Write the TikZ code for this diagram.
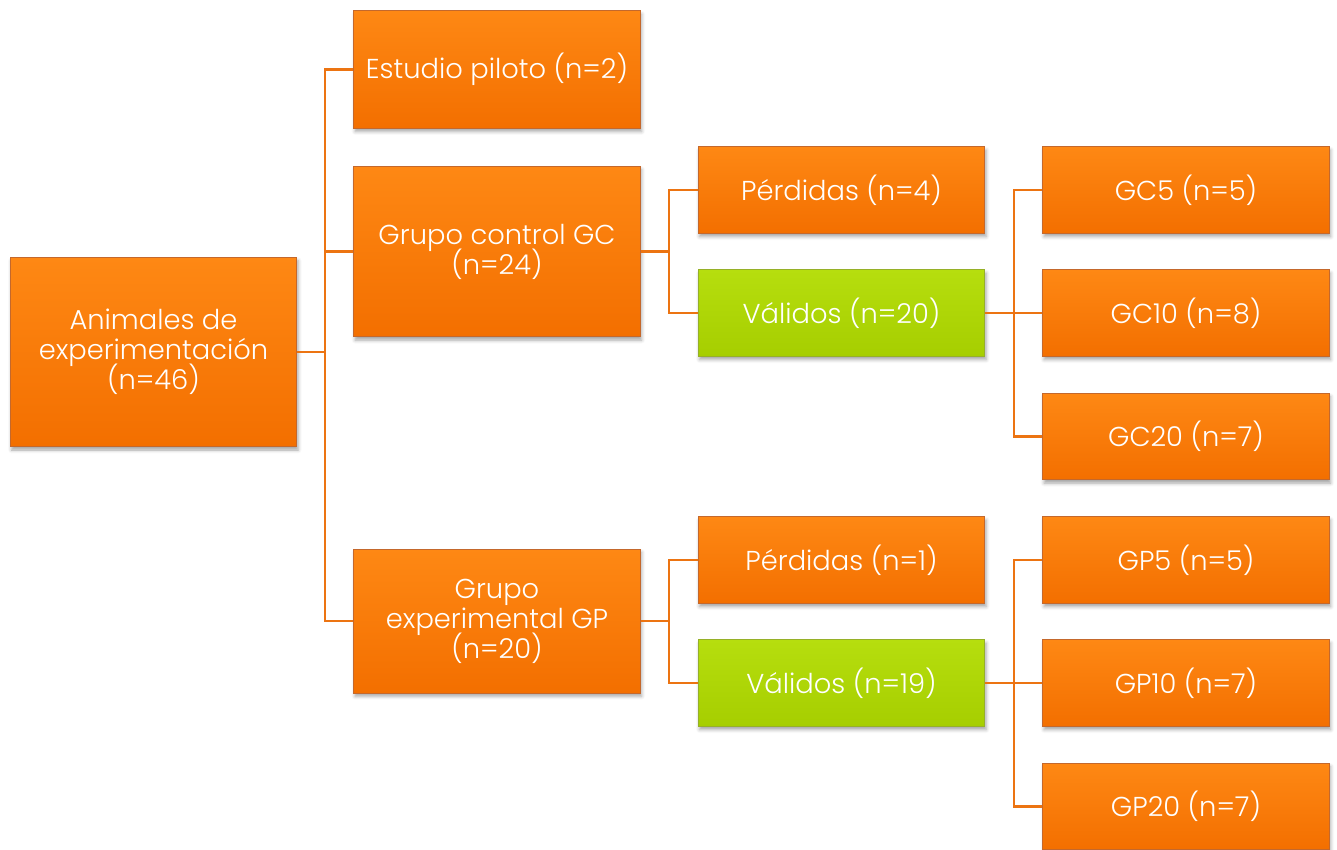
\documentclass[tikz,border=0pt]{standalone}
\usepackage{fontspec}
\setmainfont{Poppins}[UprightFont=*-Light]
\usetikzlibrary{shadows.blur}
\definecolor{orTop}{RGB}{254,136,20}
\definecolor{orBot}{RGB}{243,111,0}
\definecolor{orEdge}{RGB}{196,104,44}
\definecolor{grTop}{RGB}{182,222,14}
\definecolor{grBot}{RGB}{166,206,0}
\definecolor{grEdge}{RGB}{150,176,40}
\definecolor{link}{RGB}{236,116,18}
\newcommand\boxtextfont{\fontsize{20.5}{22.5}\selectfont
  \setlength{\lineskiplimit}{-30pt}\setlength{\lineskip}{0pt}\relax}
\tikzset{
  box/.style={draw=orEdge, line width=0.6pt, top color=orTop, bottom color=orBot,
    text=white, align=center, minimum width=215pt, inner sep=2pt,
    font=\boxtextfont,
    blur shadow={shadow xshift=1pt, shadow yshift=-2.5pt, shadow blur radius=2.5pt, shadow opacity=35}},
  okbox/.style={box, draw=grEdge, top color=grTop, bottom color=grBot},
  conn/.style={draw=link, line width=1.6pt}
}
\begin{document}
\begin{tikzpicture}[x=0.75pt, y=-0.75pt]
\useasboundingbox (0,0) rectangle (1337,849);
% first level
\node[box, minimum height=142pt] (root) at (153.5,352) {Animales de\\experimentación\\(n=46)};
% second level
\node[box, minimum height=88pt] (pil) at (497,69.5) {Estudio piloto (n=2)};
\node[box, minimum height=128pt] (gc) at (497,251.5) {Grupo control GC\\(n=24)};
\node[box, minimum height=108pt] (gp) at (497,621) {Grupo\\experimental GP\\(n=20)};
% third level
\node[box, minimum height=65pt] (p4) at (841.5,190) {Pérdidas (n=4)};
\node[okbox, minimum height=65pt] (v20) at (841.5,313) {Válidos (n=20)};
\node[box, minimum height=65pt] (p1) at (841.5,560) {Pérdidas (n=1)};
\node[okbox, minimum height=65pt] (v19) at (841.5,683) {Válidos (n=19)};
% fourth level
\node[box, minimum height=65pt] (gc5) at (1186,190) {GC5 (n=5)};
\node[box, minimum height=65pt] (gc10) at (1186,313) {GC10 (n=8)};
\node[box, minimum height=65pt] (gc20) at (1186,436.5) {GC20 (n=7)};
\node[box, minimum height=65pt] (gp5) at (1186,560) {GP5 (n=5)};
\node[box, minimum height=65pt] (gp10) at (1186,683) {GP10 (n=7)};
\node[box, minimum height=65pt] (gp20) at (1186,806.5) {GP20 (n=7)};
% branch points
\coordinate (j1) at (325,352);
\coordinate (j2) at (669,251.5);
\coordinate (j3) at (1014,313);
\coordinate (j4) at (669,621);
\coordinate (j5) at (1014,683);
% connectors
\draw[conn] (root.east) -- (j1);
\draw[conn] (j1) |- (pil.west);
\draw[conn] (j1) |- (gc.west);
\draw[conn] (j1) |- (gp.west);
\draw[conn] (gc.east) -- (j2);
\draw[conn] (j2) |- (p4.west);
\draw[conn] (j2) |- (v20.west);
\draw[conn] (v20.east) -- (j3);
\draw[conn] (j3) |- (gc5.west);
\draw[conn] (j3) |- (gc10.west);
\draw[conn] (j3) |- (gc20.west);
\draw[conn] (gp.east) -- (j4);
\draw[conn] (j4) |- (p1.west);
\draw[conn] (j4) |- (v19.west);
\draw[conn] (v19.east) -- (j5);
\draw[conn] (j5) |- (gp5.west);
\draw[conn] (j5) |- (gp10.west);
\draw[conn] (j5) |- (gp20.west);
\end{tikzpicture}
\end{document}
